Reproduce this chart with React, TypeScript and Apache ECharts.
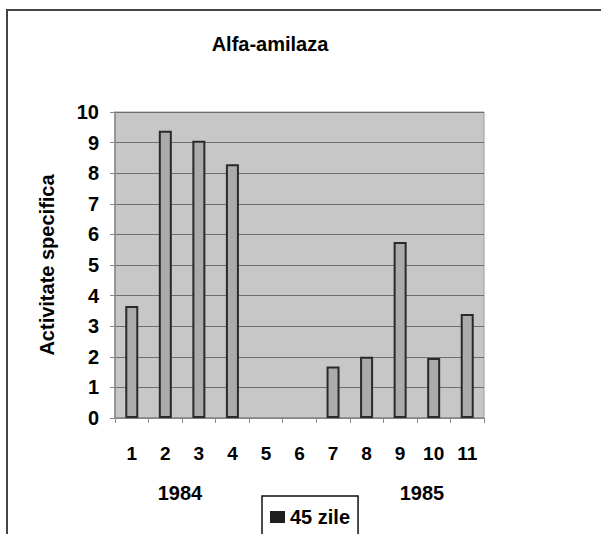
import React, { useEffect, useRef } from "react";
import * as echarts from "echarts";

const categories = ["1", "2", "3", "4", "5", "6", "7", "8", "9", "10", "11"];
const values: (number | null)[] = [3.66, 9.39, 9.06, 8.29, null, null, 1.68, 2.0, 5.75, 1.96, 3.4];
const seriesName = "45 zile";
const yearLabels = ["1984", "1985"];
const titleText = "Alfa-amilaza";
const yAxisName = "Activitate specifica";

const FONT = "'Liberation Sans', Arial, Helvetica, sans-serif";

export default function App() {
  const ref = useRef<HTMLDivElement>(null);
  useEffect(() => {
    if (!ref.current) return;
    const chart = echarts.init(ref.current, undefined, { renderer: "svg" });
    chart.setOption({
      animation: false,
      backgroundColor: "#ffffff",
      title: {
        text: titleText,
        left: 265,
        textAlign: "center",
        top: 29,
        textStyle: { fontFamily: FONT, fontSize: 20, fontWeight: "bold", color: "#000" },
      },
      grid: {
        left: 115,
        right: 117,
        top: 112,
        bottom: 116,
        show: true,
        backgroundColor: "#c7c7c7",
        borderColor: "#9a9a9a",
        borderWidth: 1,
      },
      legend: {
        left: 262,
        top: 496,
        orient: "horizontal",
        padding: [11, 8, 40, 8],
        borderColor: "#111",
        borderWidth: 1.5,
        borderRadius: 0,
        backgroundColor: "#fff",
        itemWidth: 15,
        itemHeight: 12,
        itemGap: 5,
        icon: "rect",
        data: [{ name: seriesName, itemStyle: { color: "#1e1e1e", borderWidth: 0 } }],
        textStyle: { fontFamily: FONT, fontSize: 20, fontWeight: "bold", color: "#000" },
      },
      xAxis: {
        type: "category",
        data: categories,
        axisLine: { show: true, lineStyle: { color: "#8a8a8a", width: 1.5 } },
        axisTick: { show: true, length: 5, lineStyle: { color: "#8a8a8a" } },
        axisLabel: {
          margin: 26,
          fontFamily: FONT,
          fontSize: 19,
          fontWeight: "bold",
          color: "#000",
        },
      },
      yAxis: {
        type: "value",
        min: 0,
        max: 10,
        interval: 1,
        name: yAxisName,
        nameLocation: "middle",
        nameRotate: 90,
        nameGap: 58,
        nameTextStyle: { fontFamily: FONT, fontSize: 20, fontWeight: "bold", color: "#000" },
        axisLine: { show: true, lineStyle: { color: "#8a8a8a", width: 1.5 } },
        axisTick: { show: true, length: 5, lineStyle: { color: "#8a8a8a" } },
        axisLabel: {
          margin: 16,
          fontFamily: FONT,
          fontSize: 20,
          fontWeight: "bold",
          color: "#000",
        },
        splitLine: { show: true, lineStyle: { color: "#6f6f6f", width: 1 } },
      },
      series: [
        {
          name: seriesName,
          type: "bar",
          data: values,
          barWidth: 13,
          itemStyle: { color: "#ababab", borderColor: "#2a2a2a", borderWidth: 2 },
        },
      ],
      graphic: [
        {
          type: "rect",
          shape: { x: 7, y: 10, width: 800, height: 800 },
          style: { fill: "none", stroke: "#444", lineWidth: 2 },
          silent: true,
          z: -10,
        },
        {
          type: "text",
          x: 180,
          y: 493,
          style: {
            text: yearLabels[0],
            fontFamily: FONT,
            fontSize: 20,
            fontWeight: "bold",
            fill: "#000",
            align: "center",
            verticalAlign: "middle",
          },
        },
        {
          type: "text",
          x: 422,
          y: 493,
          style: {
            text: yearLabels[1],
            fontFamily: FONT,
            fontSize: 20,
            fontWeight: "bold",
            fill: "#000",
            align: "center",
            verticalAlign: "middle",
          },
        },
      ],
    });
    return () => chart.dispose();
  }, []);
  return <div ref={ref} style={{ width: 601, height: 534, position: "absolute", left: 0, top: 0 }} />;
}
